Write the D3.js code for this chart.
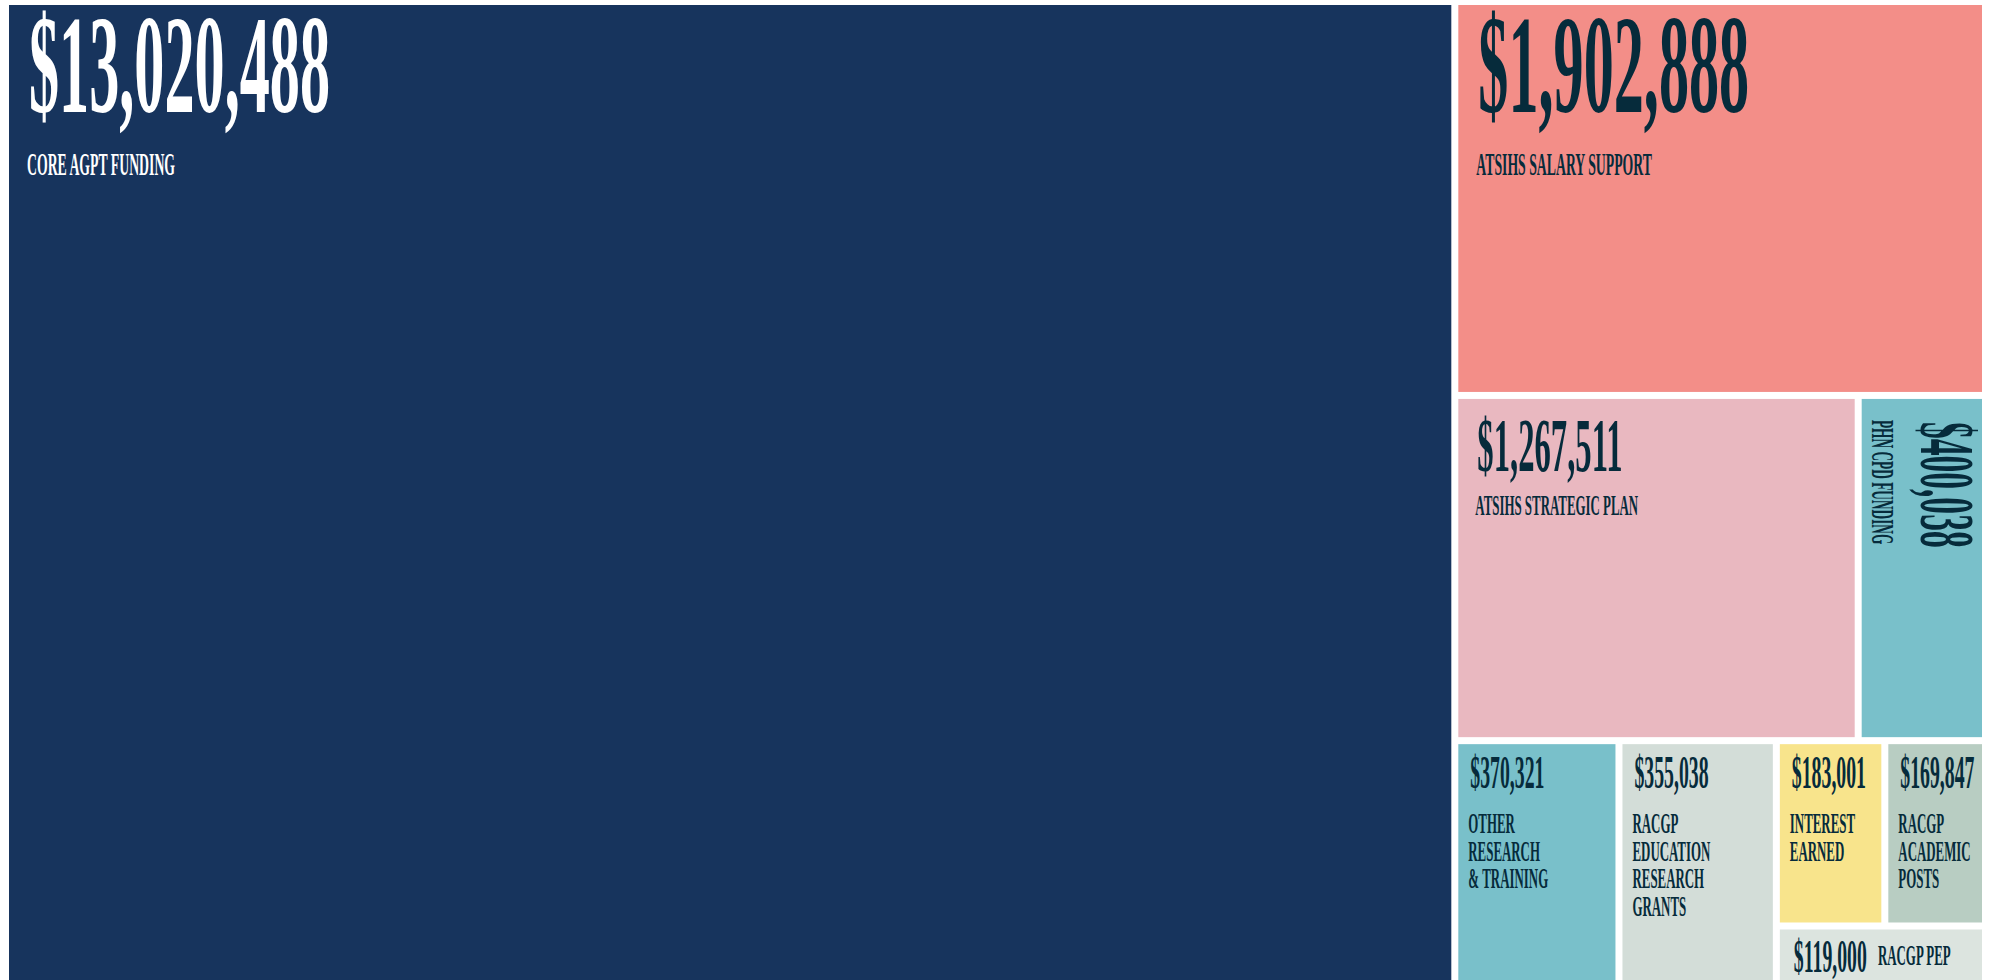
<!doctype html>
<html>
<head>
	<meta charset="utf-8"/>
	<title>Funding sources treemap</title>
	<script src="https://cdnjs.cloudflare.com/ajax/libs/d3/7.8.5/d3.min.js"></script>
	<style>
		body { margin: 0; background: #fff; overflow: hidden; }
		svg { display: block; }
		text { font-family: "Liberation Serif", "DejaVu Serif", serif; font-weight: bold; }
	</style>
</head>
<body>

<svg id="chart" width="2002" height="980"></svg>

<script>
	// funding sources, biggest first
	var sources = ["CORE AGPT FUNDING", "ATSIHS SALARY SUPPORT", "ATSIHS STRATEGIC PLAN", "PHN CPD FUNDING",
		"OTHER RESEARCH & TRAINING", "RACGP EDUCATION RESEARCH GRANTS", "INTEREST EARNED",
		"RACGP ACADEMIC POSTS", "RACGP PEP"];
	var amounts = [13020488, 1902888, 1267511, 400038, 370321, 355038, 183001, 169847, 119000];

	var palette = ["#17345d", "#f38e88", "#e9b8c0", "#79c0ca", "#79c0ca", "#d3ddd8", "#f8e48c", "#b8cdc2", "#dce4df"];
	var darkInk = "#062b3b";
	var squash = 0.43;   // the lettering is squeezed sideways

	var svg = d3.select("#chart");
	var fmt = d3.format("$,");
	var color = d3.scaleOrdinal().domain(sources).range(palette);

	var root = d3.hierarchy({children: sources.map(function (s, i) { return {name: s, amount: amounts[i]}; })})
		.sum(function (d) { return d.amount || 0; });

	d3.treemap()
		.tile(d3.treemapSquarify.ratio(1.2))
		.size([1973, 980])
		.paddingInner(7)(root);

	// text sizes go by how wide the box is (along the text)
	function tier(lw, lh) {
		if (lw >= 500) return {vf: 140, vy: 107, lf: 32, ly: 170, pad: 18};
		if (lw >= 250 && lh < 150) return {vf: 78, vy: 61, lf: 31, ly: 110, pad: 21};
		if (lw >= 250) return {vf: 76, vy: 72, lf: 30, ly: 116, pad: 17};
		return {vf: 46, vy: 44, lf: 30, ly: 89, pad: 10};
	}

	var measurer = svg.append("text").attr("visibility", "hidden");
	function textWidth(str, size) {
		measurer.style("font-size", size + "px").text(str);
		return measurer.node().getComputedTextLength() * squash;
	}

	function wrap(str, size, maxW) {
		// keep "&" with the word after it
		var words = str.replace("& ", "&\u00a0").split(" "), lines = [], line = "";
		words.forEach(function (w) {
			var test = line ? line + " " + w : w;
			if (line && textWidth(test, size) > maxW) {
				lines.push(line);
				line = w;
			} else {
				line = test;
			}
		});
		if (line) lines.push(line);
		return lines;
	}

	function squeezed(parent, x, y, size, str, ink) {
		parent.append("g")
			.attr("transform", "translate(" + x + "," + y + ") scale(" + squash + ",1)")
			.append("text")
			.style("font-size", size + "px")
			.attr("fill", ink)
			.text(str);
	}

	var cells = svg.append("g")
		.attr("transform", "translate(9,5)")
		.selectAll("g")
		.data(root.leaves())
		.join("g");

	cells.append("rect")
		.attr("x", function (d) { return d.x0; })
		.attr("y", function (d) { return d.y0; })
		.attr("width", function (d) { return d.x1 - d.x0; })
		.attr("height", function (d) { return d.y1 - d.y0; })
		.attr("fill", function (d) { return color(d.data.name); });

	cells.each(function (d, i) {
		var g = d3.select(this);
		var w = d.x1 - d.x0, h = d.y1 - d.y0;
		var ink = i == 0 ? "#ffffff" : darkInk;
		var value = fmt(d.data.amount);
		var inner, lw, lh;

		if (h / w > 2.2) {
			// tall thin box: turn the text on its side
			inner = g.append("g").attr("transform", "translate(" + d.x1 + "," + d.y0 + ") rotate(90)");
			lw = h; lh = w;
		} else {
			inner = g.append("g").attr("transform", "translate(" + d.x0 + "," + d.y0 + ")");
			lw = w; lh = h;
		}

		var t = tier(lw, lh);

		if (lh < 80) {
			// short box: amount and name on one line
			var vx = t.pad + 4;
			squeezed(inner, vx, lh / 2 + t.vf * 0.31, t.vf, value, ink);
			squeezed(inner, vx + textWidth(value, t.vf) + 11, lh / 2 + t.lf * 0.25, t.lf, d.data.name, ink);
			return;
		}

		squeezed(inner, t.pad + 2, t.vy, t.vf, value, ink);

		var lines = wrap(d.data.name, t.lf, lw * 0.55);
		lines.forEach(function (line, k) {
			squeezed(inner, t.pad, t.ly + k * t.lf * 0.92, t.lf, line, ink);
		});
	});
</script>

</body>
</html>
